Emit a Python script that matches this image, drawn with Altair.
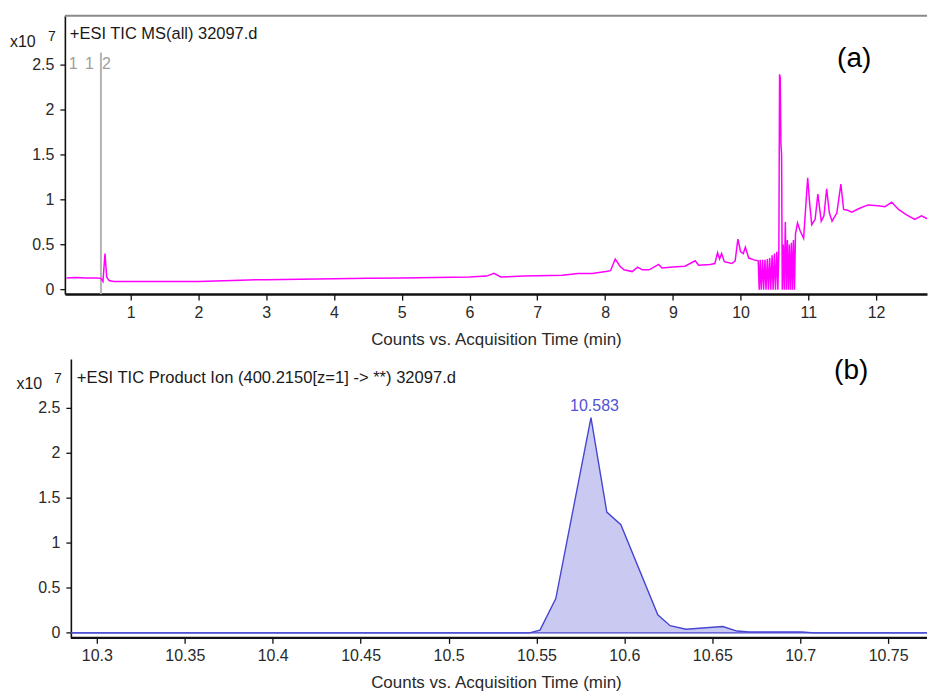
import altair as alt
import pandas as pd

# ---------------- Panel (a): TIC MS(all) ----------------
tic_time = [0.05, 0.20, 0.35, 0.50, 0.56, 0.59, 0.62, 0.645, 0.68, 0.75, 1.0, 1.5, 2.0, 2.5, 2.85,
            3.0, 3.5, 4.0, 4.5, 5.0, 5.5, 6.0, 6.25, 6.36, 6.46, 6.8, 7.0, 7.37, 7.6, 7.81,
            8.01, 8.08, 8.15, 8.22, 8.28, 8.40, 8.48, 8.55, 8.65, 8.79, 8.84, 9.0, 9.18, 9.33,
            9.38, 9.55, 9.62, 9.66, 9.69, 9.72, 9.76, 9.87, 9.92, 9.96, 10.0, 10.04, 10.07,
            10.12, 10.2, 10.26,
            10.275, 10.29, 10.305, 10.325, 10.34, 10.36, 10.375, 10.395, 10.41, 10.43, 10.445,
            10.465, 10.48, 10.50, 10.515, 10.535, 10.55,
            10.565, 10.575, 10.585, 10.595, 10.605, 10.615,
            10.63, 10.645, 10.66, 10.675, 10.69, 10.705, 10.72, 10.735, 10.75, 10.765, 10.78,
            10.795, 10.81,
            10.84, 10.88, 10.93, 10.99, 11.02, 11.05, 11.10, 11.14, 11.19, 11.23, 11.27, 11.31,
            11.35, 11.42, 11.48, 11.52, 11.58, 11.64, 11.75, 11.88, 12.03, 12.13, 12.23, 12.33,
            12.45, 12.57, 12.67, 12.77, 12.92]
tic_value = [0.13, 0.135, 0.13, 0.13, 0.125, 0.09, 0.40, 0.14, 0.10, 0.09, 0.09, 0.09, 0.09, 0.10, 0.11,
             0.11, 0.115, 0.12, 0.125, 0.13, 0.135, 0.14, 0.15, 0.18, 0.14, 0.15, 0.155, 0.16, 0.18, 0.18,
             0.20, 0.21, 0.34, 0.26, 0.22, 0.20, 0.25, 0.22, 0.22, 0.28, 0.24, 0.25, 0.26, 0.32,
             0.27, 0.28, 0.29, 0.41, 0.34, 0.40, 0.31, 0.29, 0.32, 0.56, 0.42, 0.40, 0.47,
             0.35, 0.33, 0.32,
             0.0, 0.33, 0.0, 0.33, 0.0, 0.33, 0.0, 0.34, 0.0, 0.35, 0.0,
             0.38, 0.0, 0.40, 0.0, 0.42, 0.0,
             0.45, 2.39, 2.35, 1.62, 1.50, 0.0,
             0.50, 0.0, 0.75, 0.0, 0.55, 0.0, 0.50, 0.0, 0.52, 0.0, 0.55,
             0.0, 0.62,
             0.74, 0.65, 0.57, 1.24, 0.95, 0.72, 0.78, 1.06, 0.76, 0.82, 1.12, 0.85,
             0.76, 0.85, 1.17, 0.89, 0.88, 0.86, 0.90, 0.94, 0.93, 0.92, 0.97, 0.89,
             0.83, 0.78, 0.82, 0.78, 0.78]
marker_time = [0.56]
marker_label_time = [0.15, 0.39, 0.64]
marker_labels = ["1", "1", "2"]
x_ticks_a = [1, 2, 3, 4, 5, 6, 7, 8, 9, 10, 11, 12]

# ---------------- Panel (b): TIC Product Ion ----------------
eic_time = [10.2852, 10.546, 10.552, 10.561, 10.581, 10.590, 10.598, 10.619, 10.626, 10.635,
            10.656, 10.664, 10.671, 10.701, 10.708, 10.78]
eic_value = [0.0, 0.0, 0.03, 0.38, 2.39, 1.34, 1.20, 0.20, 0.08, 0.04,
             0.07, 0.02, 0.01, 0.01, 0.0, 0.0]
peak_time = [10.583]
peak_value = [2.39]
peak_label = ["10.583"]
x_ticks_b = [10.3, 10.35, 10.4, 10.45, 10.5, 10.55, 10.6, 10.65, 10.7, 10.75]
axis_start_b = [10.2852]

y_ticks = [0, 0.5, 1, 1.5, 2, 2.5]

FONT = "Liberation Sans"
TXT = "#2a2a2a"
W, H = 864, 279
Y_DOM = [-0.05, 3.04]
XA_DOM = [0.028, 12.751]
XB_DOM = [10.2818, 10.7721]

df_a = pd.DataFrame({"t": tic_time, "v": tic_value})
df_marker = pd.DataFrame({"t": marker_time})
df_mlab = pd.DataFrame({"t": marker_label_time, "lab": marker_labels, "v": [2.5] * 3})
df_b = pd.DataFrame({"t": eic_time, "v": eic_value})
df_peak = pd.DataFrame({"t": peak_time, "v": peak_value, "lab": peak_label})
df_axb = pd.DataFrame({"t": axis_start_b})


def x_axis(vals, fmt, domain=True):
    return alt.Axis(values=vals, format=fmt, title="Counts vs. Acquisition Time (min)",
                    grid=False, domain=domain, domainColor="#111111", domainWidth=2.5,
                    tickColor="#111111", tickWidth=1.3, tickSize=6, labelFontSize=16,
                    labelColor=TXT, labelFont=FONT, labelPadding=4, titleFont=FONT,
                    titleFontSize=17, titleFontWeight="normal", titleColor=TXT,
                    titlePadding=11, labelFlush=False)


def y_axis(offset=0):
    return alt.Axis(values=y_ticks, format="~g", title=None, grid=False, domainColor="#111111",
                    domainWidth=1.6, tickColor="#111111", tickWidth=1.3, tickSize=5,
                    labelFontSize=16, labelColor=TXT, labelFont=FONT, labelPadding=6,
                    offset=offset)


def label(txt, x, y, size, color=TXT, align="left"):
    d = pd.DataFrame({"s": [txt]})
    return alt.Chart(d).mark_text(font=FONT, fontSize=size, color=color, align=align,
                                  baseline="middle").encode(text="s:N", x=alt.value(x), y=alt.value(y))


sxa = alt.Scale(domain=XA_DOM, nice=False, zero=False)
sy = alt.Scale(domain=Y_DOM, nice=False, zero=False)
xa = alt.X("t:Q", scale=sxa, axis=x_axis(x_ticks_a, "d"))
ya = alt.Y("v:Q", scale=sy, axis=y_axis())

top_border = alt.Chart(df_marker).mark_rule(color="#8a8a8a", strokeWidth=2).encode(
    x=alt.value(0), x2=alt.value(W), y=alt.value(0))
marker = alt.Chart(df_marker).mark_rule(color="#b4b4b4", strokeWidth=2).encode(
    x=alt.X("t:Q", scale=sxa), y=alt.value(37), y2=alt.value(H))
mlab = alt.Chart(df_mlab).mark_text(font=FONT, fontSize=16, color="#a0a0a0", baseline="middle").encode(
    x="t:Q", y="v:Q", text="lab:N")
line_a = alt.Chart(df_a).mark_line(color="#ff00ff", strokeWidth=1.5, clip=True).encode(x=xa, y=ya)

panel_a = alt.layer(
    top_border, marker, line_a, mlab,
    label("+ESI TIC MS(all) 32097.d", 5, 18, 16.5, "#1a1a1a"),
    label("x10", -55, 26, 16, "#1a1a1a"),
    label("7", -17, 21, 14, "#1a1a1a"),
    label("(a)", 791, 43, 28, "#000000", "center"),
).properties(width=W, height=H)

sxb = alt.Scale(domain=XB_DOM, nice=False, zero=False)
xb = alt.X("t:Q", scale=sxb, axis=x_axis(x_ticks_b, "~g", domain=False))
yb = alt.Y("v:Q", scale=sy, axis=y_axis(-6))

area_b = alt.Chart(df_b).mark_area(color="#c9c9f2", opacity=1, clip=True,
                                    line={"color": "#4646d2", "strokeWidth": 1.4}).encode(x=xb, y=yb)
base_b = alt.Chart(df_axb).mark_rule(color="#4646d2", strokeWidth=1.4).encode(
    x=alt.X("t:Q", scale=sxb), x2=alt.value(W), y=alt.datum(0))
axis_line_b = alt.Chart(df_axb).mark_rule(color="#111111", strokeWidth=2.5).encode(
    x=alt.X("t:Q", scale=sxb), x2=alt.value(W), y=alt.value(H + 0.5))
peak_txt = alt.Chart(df_peak).mark_text(font=FONT, fontSize=16, color="#5252d6", baseline="bottom",
                                        dy=-4).encode(x="t:Q", y="v:Q", text="lab:N")

panel_b = alt.layer(
    area_b, base_b, axis_line_b, peak_txt,
    label("+ESI TIC Product Ion (400.2150[z=1] -> **) 32097.d", 12, 19, 16.6, "#1a1a1a"),
    label("x10", -48.5, 25, 16, "#1a1a1a"),
    label("7", -11, 20, 14, "#1a1a1a"),
    label("(b)", 788, 12, 28, "#000000", "center"),
).properties(width=W, height=H)

chart = alt.concat(panel_a, panel_b, columns=1, spacing=10).properties(
    padding={"left": 2, "top": 6, "right": 0, "bottom": 0},
    background="white",
).configure_view(stroke="transparent", strokeWidth=0)

chart.save("out.html", embed_options={"renderer": "svg", "actions": False})
